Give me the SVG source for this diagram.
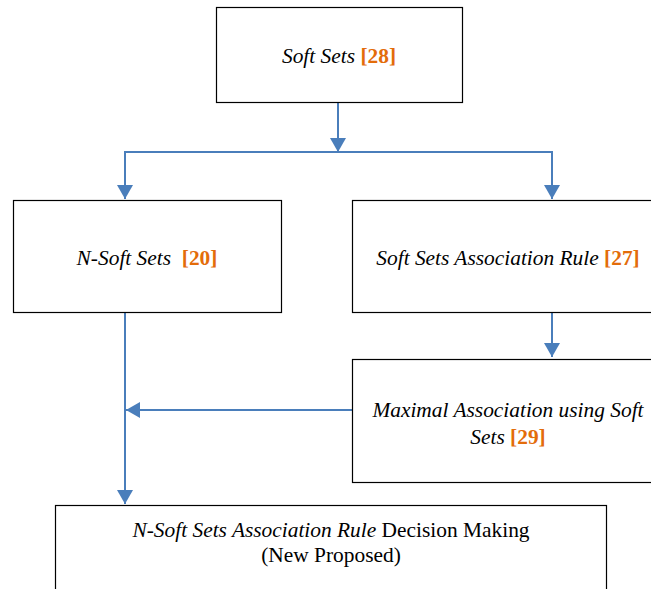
<svg xmlns="http://www.w3.org/2000/svg" width="651" height="589" viewBox="0 0 651 589">
<style>
.box{fill:#fff;stroke:#000;stroke-width:1.2}
.t{font-family:'Liberation Serif','Times New Roman','DejaVu Serif',serif;font-size:21.4px;fill:#000;text-anchor:middle}
.i{font-style:italic}
.r{fill:#E36C0A;font-weight:bold;font-style:normal}
.c{fill:none;stroke:#4A7EBB;stroke-width:2}
</style>
<defs>
<marker id="ah" markerUnits="userSpaceOnUse" markerWidth="14" markerHeight="16" viewBox="0 0 14 16" refX="14" refY="8" orient="auto">
<path d="M0,0 L14,8 L0,16 Z" fill="#4A7EBB"/>
</marker>
</defs>
<rect width="651" height="589" fill="#fff"/>
<g id="connectors">
<line class="c" x1="338" y1="102" x2="338" y2="152" marker-end="url(#ah)"/>
<polyline class="c" points="125,165 125,152 552,152 552,165"/>
<line class="c" x1="125" y1="160" x2="125" y2="199" marker-end="url(#ah)"/>
<line class="c" x1="552" y1="160" x2="552" y2="199" marker-end="url(#ah)"/>
<line class="c" x1="552" y1="312" x2="552" y2="357" marker-end="url(#ah)"/>
<line class="c" x1="352" y1="410" x2="126" y2="410" marker-end="url(#ah)"/>
<line class="c" x1="125" y1="312" x2="125" y2="504" marker-end="url(#ah)"/>
</g>
<g id="soft-sets">
<rect class="box" x="216.5" y="7.5" width="246" height="95"/>
<text class="t" x="339" y="63"><tspan class="i">Soft Sets </tspan><tspan class="r">[28]</tspan></text>
</g>
<g id="n-soft-sets">
<rect class="box" x="13.5" y="200.5" width="268" height="112"/>
<text class="t" x="147" y="265" xml:space="preserve"><tspan class="i">N-Soft Sets  </tspan><tspan class="r">[20]</tspan></text>
</g>
<g id="assoc-rule">
<rect class="box" x="352.5" y="200.5" width="310" height="112"/>
<text class="t" x="508" y="265"><tspan class="i">Soft Sets Association Rule </tspan><tspan class="r">[27]</tspan></text>
</g>
<g id="maximal">
<rect class="box" x="352.5" y="359.5" width="310" height="123"/>
<text class="t" x="508" y="417"><tspan class="i">Maximal Association using Soft</tspan></text>
<text class="t" x="508" y="444"><tspan class="i">Sets </tspan><tspan class="r">[29]</tspan></text>
</g>
<g id="proposed">
<rect class="box" x="55.5" y="505.5" width="551" height="100"/>
<text class="t" x="331" y="537"><tspan class="i">N-Soft Sets Association Rule</tspan> Decision Making</text>
<text class="t" x="331" y="562">(New Proposed)</text>
</g>
</svg>
